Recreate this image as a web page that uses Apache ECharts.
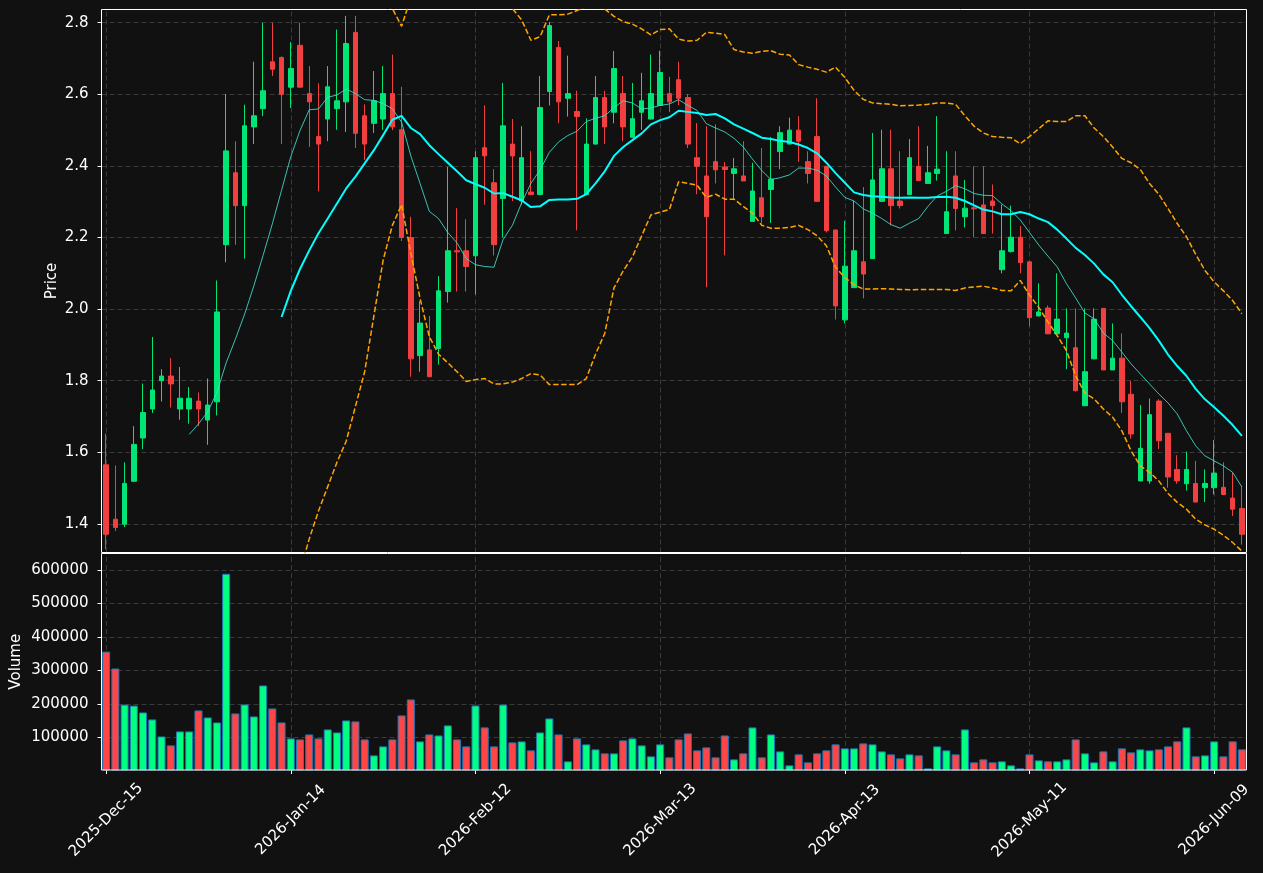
<!DOCTYPE html>
<html>
<head>
<meta charset="utf-8">
<script src="https://cdn.jsdelivr.net/npm/echarts@6/dist/echarts.min.js"></script>
<style>
html,body{margin:0;padding:0;background:#111111;}
#main{width:1263px;height:873px;}
</style>
</head>
<body>
<div id="main"></div>
<script>
// trading days shown on the axis (weekends and market holidays skipped)
var tradingDays = [
    ['2025', 'Dec', [15,16,17,18,19,22,23,24,26,29,30,31]],
    ['2026', 'Jan', [2,5,6,7,8,9,12,13,14,15,16,20,21,22,23,26,27,28,29,30]],
    ['2026', 'Feb', [2,3,4,5,6,9,10,11,12,13,17,18,19,20,23,24,25,26,27]],
    ['2026', 'Mar', [2,3,4,5,6,9,10,11,12,13,16,17,18,19,20,23,24,25,26,27,30,31]],
    ['2026', 'Apr', [1,2,6,7,8,9,10,13,14,15,16,17,20,21,22,23,24,27,28,29,30]],
    ['2026', 'May', [1,4,5,6,7,8,11,12,13,14,15,18,19,20,21,22,26,27,28,29]],
    ['2026', 'Jun', [1,2,3,4,5,8,9,10,11,12]]
];
var dates = [];
tradingDays.forEach(function (m) {
    m[2].forEach(function (d) {
        dates.push(m[0] + '-' + m[1] + '-' + (d < 10 ? '0' + d : d));
    });
});

var openP = [1.565,1.413,1.399,1.519,1.640,1.721,1.800,1.813,1.721,1.721,
    1.743,1.690,1.741,2.180,2.381,2.289,2.509,2.560,2.691,2.703,
    2.620,2.737,2.602,2.482,2.531,2.560,2.579,2.773,2.540,2.519,
    2.531,2.602,2.501,2.200,1.870,1.886,1.890,2.049,2.163,2.163,
    2.149,2.451,2.353,2.309,2.461,2.302,2.327,2.320,2.608,2.731,
    2.589,2.552,2.320,2.461,2.591,2.550,2.602,2.480,2.550,2.531,
    2.569,2.602,2.641,2.591,2.423,2.372,2.412,2.397,2.379,2.372,
    2.245,2.311,2.334,2.440,2.461,2.500,2.412,2.482,2.399,2.221,
    1.970,2.060,2.132,2.141,2.301,2.392,2.302,2.320,2.399,2.351,
    2.379,2.211,2.372,2.258,2.283,2.291,2.302,2.110,2.161,2.201,
    2.132,1.981,2.003,1.931,1.920,1.892,1.730,1.861,2.002,1.830,
    1.863,1.762,1.520,1.520,1.743,1.653,1.552,1.512,1.513,1.501,
    1.501,1.502,1.472,1.443];
var closeP = [1.371,1.390,1.513,1.622,1.711,1.774,1.813,1.791,1.751,1.751,
    1.721,1.732,1.992,2.442,2.289,2.512,2.540,2.610,2.670,2.600,
    2.672,2.620,2.579,2.461,2.621,2.582,2.742,2.491,2.461,2.582,
    2.602,2.509,2.200,1.861,1.961,1.811,2.051,2.163,2.160,2.119,
    2.423,2.428,2.180,2.512,2.428,2.423,2.320,2.563,2.792,2.579,
    2.602,2.538,2.461,2.591,2.509,2.672,2.509,2.532,2.582,2.602,
    2.661,2.579,2.589,2.461,2.399,2.258,2.389,2.390,2.392,2.358,
    2.330,2.258,2.363,2.493,2.500,2.469,2.379,2.301,2.219,2.009,
    2.120,2.163,2.098,2.361,2.392,2.289,2.289,2.423,2.359,2.381,
    2.391,2.272,2.281,2.282,2.280,2.211,2.289,2.163,2.201,2.130,
    1.976,1.992,1.931,1.972,1.933,1.772,1.825,1.972,1.830,1.863,
    1.741,1.651,1.611,1.705,1.632,1.531,1.520,1.552,1.461,1.513,
    1.542,1.482,1.441,1.371];
var lowP = [1.329,1.380,1.391,1.517,1.609,1.710,1.742,1.725,1.691,1.680,
    1.673,1.621,1.703,2.131,2.180,2.141,2.461,2.539,2.651,2.461,
    2.562,2.619,2.453,2.329,2.469,2.501,2.495,2.450,2.416,2.492,
    2.501,2.500,2.190,1.811,1.825,1.811,1.845,2.018,2.049,2.049,
    2.041,2.292,2.150,2.200,2.302,2.292,2.318,2.318,2.569,2.519,
    2.538,2.220,2.318,2.460,2.461,2.519,2.469,2.478,2.501,2.530,
    2.569,2.550,2.570,2.450,2.321,2.061,2.351,2.150,2.307,2.358,
    2.245,2.239,2.241,2.391,2.461,2.411,2.351,2.300,2.214,1.971,
    1.960,2.060,2.030,2.140,2.300,2.234,2.281,2.320,2.359,2.350,
    2.359,2.210,2.220,2.228,2.201,2.210,2.211,2.100,2.158,2.100,
    1.952,1.980,1.930,1.930,1.832,1.770,1.730,1.860,1.830,1.830,
    1.710,1.638,1.520,1.512,1.609,1.501,1.512,1.493,1.460,1.461,
    1.482,1.482,1.422,1.342];
var highP = [1.652,1.563,1.572,1.673,1.792,1.922,1.832,1.863,1.838,1.782,
    1.767,1.806,2.080,2.601,2.469,2.571,2.691,2.800,2.800,2.706,
    2.746,2.800,2.679,2.631,2.679,2.781,2.819,2.819,2.572,2.665,
    2.679,2.711,2.621,2.258,2.022,1.981,2.092,2.397,2.282,2.251,
    2.441,2.569,2.391,2.632,2.531,2.511,2.441,2.651,2.802,2.749,
    2.708,2.610,2.533,2.651,2.610,2.721,2.651,2.632,2.660,2.711,
    2.722,2.649,2.691,2.601,2.520,2.511,2.516,2.411,2.422,2.469,
    2.409,2.450,2.481,2.511,2.535,2.539,2.441,2.589,2.400,2.222,
    2.247,2.302,2.341,2.492,2.501,2.501,2.441,2.475,2.511,2.456,
    2.539,2.441,2.441,2.361,2.399,2.399,2.348,2.292,2.289,2.232,
    2.132,2.072,2.010,2.100,2.002,2.002,2.002,2.002,2.002,1.960,
    1.932,1.800,1.732,1.750,1.748,1.653,1.592,1.602,1.576,1.552,
    1.634,1.572,1.543,1.506];

var volume = [356000,305600,198000,195000,174600,153800,103000,76400,118000,118000,
    180600,159700,144800,588000,171600,198400,162700,255000,186500,144800,
    97200,94200,109000,97200,124000,115000,150800,147800,94200,46600,
    73400,94200,165700,213300,88300,109000,106000,136000,94200,73400,
    195400,130000,73400,198000,85300,88300,61500,115000,156700,109000,
    28800,97200,79400,64500,52600,52600,91300,97200,76400,43700,
    79400,40700,94200,112000,61500,70400,40700,106000,34700,52600,
    130000,40700,109000,58500,16900,49600,25800,52600,61500,79400,
    67500,67500,82300,79400,58500,49600,37700,49600,46600,7900,
    73400,61500,49600,124000,25800,34700,25800,28800,16900,7900,
    49600,31700,28800,28800,34700,94200,52600,25800,58500,28800,
    67500,55600,64500,61500,64500,73400,88300,130000,43700,46600,
    88300,43700,88300,64500];

// moving averages and bands
var ma10 = [null,null,null,null,null,null,null,null,null,1.650,
    1.679,1.713,1.767,1.850,1.916,1.986,2.065,2.150,2.238,2.332,
    2.426,2.499,2.557,2.559,2.592,2.598,2.615,2.602,2.585,2.583,
    2.574,2.560,2.522,2.428,2.351,2.273,2.253,2.214,2.185,2.141,
    2.124,2.119,2.117,2.195,2.234,2.297,2.351,2.389,2.438,2.467,
    2.485,2.497,2.524,2.533,2.540,2.563,2.582,2.576,2.559,2.562,
    2.569,2.573,2.585,2.569,2.555,2.518,2.506,2.495,2.477,2.453,
    2.419,2.387,2.362,2.367,2.375,2.394,2.394,2.388,2.372,2.341,
    2.312,2.302,2.280,2.268,2.253,2.236,2.226,2.240,2.253,2.287,
    2.316,2.329,2.345,2.336,2.323,2.318,2.317,2.294,2.275,2.249,
    2.214,2.179,2.148,2.118,2.071,2.031,1.989,1.973,1.933,1.912,
    1.880,1.847,1.819,1.791,1.763,1.738,1.707,1.660,1.618,1.590,
    1.576,1.562,1.544,1.503];
var ma20 = [null,null,null,null,null,null,null,null,null,null,
    null,null,null,null,null,null,null,null,null,1.978,
    2.051,2.112,2.164,2.212,2.253,2.295,2.337,2.370,2.407,2.444,
    2.486,2.529,2.540,2.506,2.489,2.458,2.433,2.409,2.385,2.360,
    2.349,2.339,2.323,2.324,2.314,2.304,2.285,2.287,2.305,2.306,
    2.306,2.308,2.321,2.351,2.385,2.428,2.453,2.472,2.491,2.516,
    2.528,2.536,2.554,2.551,2.548,2.542,2.545,2.533,2.516,2.504,
    2.492,2.479,2.475,2.470,2.467,2.460,2.450,2.435,2.409,2.380,
    2.353,2.326,2.319,2.315,2.314,2.312,2.311,2.312,2.311,2.311,
    2.313,2.314,2.311,2.302,2.290,2.278,2.273,2.265,2.265,2.271,
    2.265,2.253,2.243,2.222,2.197,2.171,2.151,2.127,2.097,2.075,
    2.040,2.008,1.978,1.947,1.912,1.873,1.841,1.813,1.777,1.748,
    1.726,1.702,1.676,1.646];
var bandUpper = [null,null,null,null,null,null,null,null,null,null,
    null,null,null,null,null,null,null,null,null,2.96,
    2.96,2.93,2.97,2.99,3.00,3.02,3.04,3.01,2.99,2.91,
    2.85,2.84,2.79,2.87,2.95,2.99,2.99,2.97,2.95,2.92,
    2.90,2.87,2.86,2.86,2.84,2.808,2.751,2.761,2.822,2.822,
    2.824,2.834,2.845,2.85,2.838,2.818,2.803,2.796,2.783,2.766,
    2.781,2.783,2.754,2.749,2.751,2.773,2.771,2.767,2.725,2.718,
    2.715,2.720,2.722,2.712,2.710,2.683,2.676,2.670,2.662,2.676,
    2.647,2.611,2.586,2.576,2.574,2.572,2.568,2.569,2.570,2.572,
    2.576,2.576,2.572,2.540,2.511,2.492,2.482,2.480,2.479,2.462,
    2.482,2.504,2.526,2.524,2.524,2.540,2.540,2.506,2.482,2.453,
    2.421,2.409,2.390,2.351,2.321,2.281,2.239,2.202,2.153,2.108,
    2.076,2.051,2.024,1.987];
var bandLower = [null,null,null,null,null,null,null,null,null,null,
    null,null,null,null,null,null,null,null,null,1.00,
    1.13,1.27,1.358,1.436,1.504,1.572,1.631,1.728,1.825,1.981,
    2.137,2.234,2.292,2.156,2.030,1.923,1.874,1.850,1.825,1.798,
    1.803,1.806,1.791,1.791,1.796,1.806,1.820,1.816,1.789,1.789,
    1.789,1.789,1.806,1.874,1.932,2.059,2.107,2.146,2.205,2.263,
    2.271,2.278,2.356,2.351,2.346,2.312,2.321,2.307,2.307,2.287,
    2.268,2.234,2.226,2.226,2.228,2.234,2.222,2.205,2.177,2.117,
    2.088,2.068,2.056,2.056,2.057,2.056,2.055,2.054,2.055,2.055,
    2.055,2.055,2.052,2.059,2.062,2.064,2.059,2.052,2.051,2.080,
    2.039,2.005,1.964,1.926,1.884,1.814,1.765,1.749,1.721,1.698,
    1.660,1.604,1.562,1.544,1.520,1.485,1.460,1.441,1.413,1.397,
    1.385,1.368,1.348,1.324];

var tickIdx = [0, 20, 40, 60, 80, 100, 120];

var upColor = '#00e676', downColor = '#f23f3f';
var volUp = '#00ff80', volDown = '#ff4545';
var gridLine = {color: '#3a3a3a', type: [5, 3], width: 1};
var font = 'DejaVu Sans';
var fs = 15;

var candles = [];
var volBars = [];
for (var i = 0; i < dates.length; i++) {
    candles.push([openP[i], closeP[i], lowP[i], highP[i]]);
    volBars.push({
        value: volume[i],
        itemStyle: {color: closeP[i] >= openP[i] ? volUp : volDown}
    });
}

// vertical dashed grid lines at the labelled dates, kept under the marks
function vLines() {
    return {
        silent: true,
        z: 1,
        symbol: ['none', 'none'],
        label: {show: false},
        lineStyle: gridLine,
        animation: false,
        data: tickIdx.map(function (k) { return {xAxis: dates[k]}; })
    };
}

var myChart = echarts.init(document.getElementById('main'));
var option = {
    backgroundColor: '#111111',
    animation: false,
    textStyle: {fontFamily: font},
    grid: [
        {left: 101.5, top: 9.5, width: 1145, height: 543, show: true, z: 3,
            borderColor: '#ffffff', borderWidth: 1, backgroundColor: 'transparent'},
        {left: 101.5, top: 553.5, width: 1145, height: 216.5, show: true, z: 3,
            borderColor: '#ffffff', borderWidth: 1, backgroundColor: 'transparent'}
    ],
    xAxis: [
        {type: 'category', gridIndex: 0, data: dates, boundaryGap: true,
            axisLine: {show: false}, axisTick: {show: false},
            axisLabel: {show: false}, splitLine: {show: false}},
        {type: 'category', gridIndex: 1, data: dates, boundaryGap: true,
            axisLine: {show: false},
            axisTick: {show: true, alignWithLabel: true, interval: 19, length: 4,
                lineStyle: {color: '#ffffff'}},
            axisLabel: {interval: 19, rotate: 45, color: '#ffffff', fontSize: fs,
                fontFamily: font, margin: 50, align: 'center', verticalAlign: 'middle'},
            splitLine: {show: false}}
    ],
    yAxis: [
        {type: 'value', gridIndex: 0, min: 1.32, max: 2.837, splitNumber: 7,
            name: 'Price', nameLocation: 'middle', nameGap: 42, nameMoveOverlap: false,
            nameTextStyle: {color: '#ffffff', fontSize: fs, fontFamily: font},
            axisLine: {show: false},
            axisTick: {show: true, length: 4, lineStyle: {color: '#ffffff'}},
            axisLabel: {color: '#ffffff', fontSize: fs, fontFamily: font, margin: 13,
                showMinLabel: false, showMaxLabel: false,
                formatter: function (v) { return v.toFixed(1); }},
            splitLine: {show: true, showMinLine: false, showMaxLine: false,
                lineStyle: gridLine}},
        {type: 'value', gridIndex: 1, min: 3000, max: 648500, splitNumber: 5,
            name: 'Volume', nameLocation: 'middle', nameGap: 78, nameMoveOverlap: false,
            nameTextStyle: {color: '#ffffff', fontSize: fs, fontFamily: font},
            axisLine: {show: false},
            axisTick: {show: true, length: 4, lineStyle: {color: '#ffffff'}},
            axisLabel: {color: '#ffffff', fontSize: fs, fontFamily: font, margin: 13,
                showMinLabel: false, showMaxLabel: false,
                formatter: function (v) { return String(v); }},
            splitLine: {show: true, showMinLine: false, showMaxLine: false,
                lineStyle: gridLine}}
    ],
    series: [
        {name: 'Price', type: 'candlestick', xAxisIndex: 0, yAxisIndex: 0,
            data: candles, barWidth: 5,
            itemStyle: {color: upColor, color0: downColor,
                borderColor: upColor, borderColor0: downColor, borderWidth: 1},
            markLine: vLines()},
        {name: 'MA10', type: 'line', xAxisIndex: 0, yAxisIndex: 0, data: ma10,
            symbol: 'none', connectNulls: false,
            lineStyle: {color: '#40e0d0', width: 1, opacity: 0.85}},
        {name: 'MA20', type: 'line', xAxisIndex: 0, yAxisIndex: 0, data: ma20,
            symbol: 'none', connectNulls: false,
            lineStyle: {color: '#00ffff', width: 2}},
        {name: 'Upper', type: 'line', xAxisIndex: 0, yAxisIndex: 0, data: bandUpper,
            symbol: 'none', connectNulls: false,
            lineStyle: {color: '#ffa500', width: 1.5, type: [5.5, 2.5]}},
        {name: 'Lower', type: 'line', xAxisIndex: 0, yAxisIndex: 0, data: bandLower,
            symbol: 'none', connectNulls: false,
            lineStyle: {color: '#ffa500', width: 1.5, type: [5.5, 2.5]}},
        {name: 'Volume', type: 'bar', xAxisIndex: 1, yAxisIndex: 1, data: volBars,
            barWidth: '87%',
            itemStyle: {borderColor: '#1f77b4', borderWidth: 1},
            markLine: vLines()}
    ]
};
myChart.setOption(option);
</script>
</body>
</html>
